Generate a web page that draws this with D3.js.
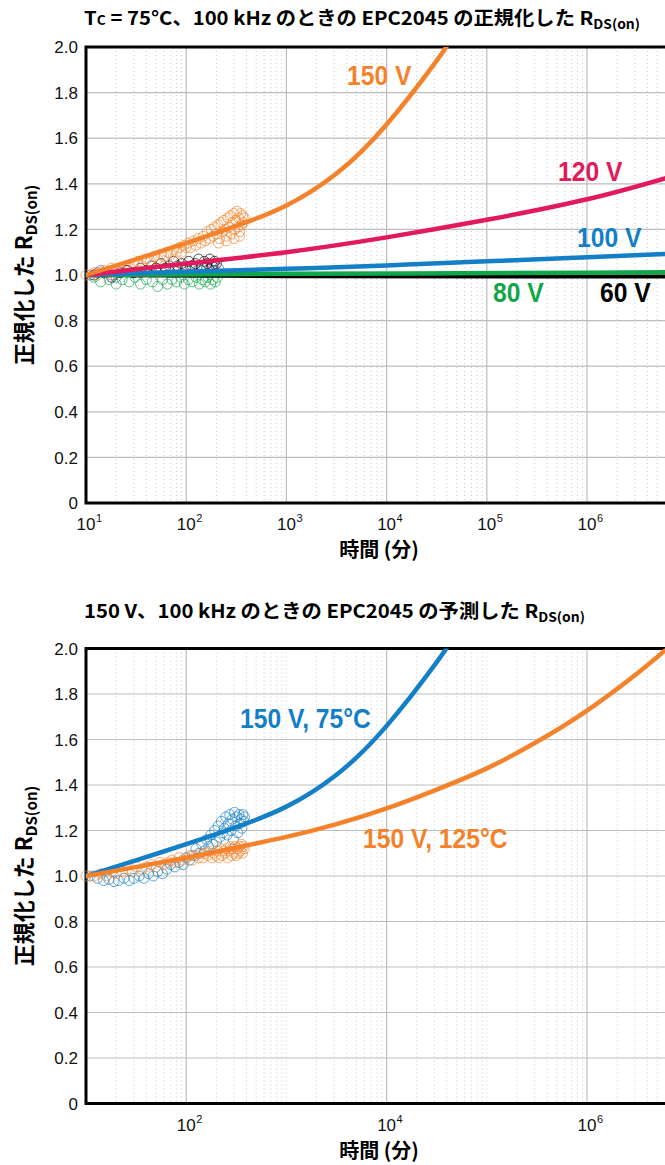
<!DOCTYPE html>
<html>
<head>
<meta charset="utf-8">
<script src="https://cdn.jsdelivr.net/npm/d3@7"></script>
<style>
  body { margin: 0; background: #fff; }
  svg text { font-family: "Liberation Sans", Arial, sans-serif; }
  .jp { font-family: "Noto Sans CJK JP", "Noto Sans", sans-serif; font-weight: 700; }
</style>
</head>
<body>
<div id="chart"></div>
<script>
let width = 665,
    height = 1165;

// axis ticks
const yTicks = [0, 0.2, 0.4, 0.6, 0.8, 1.0, 1.2, 1.4, 1.6, 1.8, 2.0];
const yTickLabels = ["0", "0.2", "0.4", "0.6", "0.8", "1.0", "1.2", "1.4", "1.6", "1.8", "2.0"];
const topXTicks = [1e1, 1e2, 1e3, 1e4, 1e5, 1e6];
const topXExp = ["1", "2", "3", "4", "5", "6"];
const botXTicks = [1e2, 1e4, 1e6];
const botXExp = ["2", "4", "6"];

// fitted curves, [minutes, normalized RDS(on)]
const fit60V = [[10, 1.0], [1000, 0.995], [6e6, 0.993]];
const fit80V = [[10, 1.0], [1000, 1.005], [1e6, 1.01], [6e6, 1.012]];
const fit100V = [[10, 1.0], [100, 1.015], [1000, 1.027], [1e4, 1.042], [1e5, 1.06], [1e6, 1.078], [6e6, 1.092]];
const fit120V = [[10, 1.0], [100, 1.05], [1000, 1.10], [1e4, 1.165], [1e5, 1.242], [1e6, 1.332], [6e6, 1.424]];
const fit150V75C = [[10, 1.0], [32, 1.07], [100, 1.14], [316, 1.215], [1000, 1.305], [3162, 1.445],
  [1e4, 1.66], [31623, 1.94], [44668, 2.04]];
const fit150V125C = [[10, 1.0], [32, 1.04], [100, 1.08], [316, 1.125], [1000, 1.172], [3162, 1.228],
  [1e4, 1.297], [31623, 1.38], [1e5, 1.473], [316228, 1.59], [1e6, 1.727], [3162278, 1.89], [6309573, 2.0]];

// measured points
const pts60V = [[12, 1.0], [15, 1.01], [18, 0.99], [22, 1.01], [26, 1.02], [30, 1.01], [35, 1.03], [40, 1.02],
  [45, 1.04], [50, 1.03], [56, 1.05], [62, 1.03], [68, 1.04], [75, 1.06], [82, 1.04], [90, 1.05], [98, 1.03],
  [106, 1.06], [115, 1.04], [124, 1.05], [133, 1.07], [142, 1.04], [152, 1.06], [162, 1.05], [172, 1.07],
  [182, 1.04], [192, 1.06], [200, 1.05]];
const pts80V = [[12, 0.99], [14, 0.97], [17, 0.98], [20, 0.96], [23, 0.98], [27, 0.97], [31, 0.99], [35, 0.96],
  [40, 0.98], [46, 0.97], [52, 0.95], [58, 0.98], [65, 0.96], [72, 0.98], [80, 0.97], [88, 0.99], [96, 0.96],
  [105, 0.98], [115, 0.97], [125, 0.99], [135, 0.96], [145, 0.98], [155, 0.97], [165, 0.99], [175, 0.96],
  [185, 0.98], [195, 0.97], [205, 0.99]];
const pts100V = [[11, 1.0], [14, 1.02], [20, 0.99], [30, 1.01], [45, 1.02], [70, 1.01], [100, 1.03], [130, 1.02],
  [160, 1.03], [190, 1.02], [210, 1.03]];
const pts120V = [[13, 1.01], [18, 1.0], [25, 1.02], [35, 1.01], [50, 1.03], [75, 1.02], [110, 1.04], [150, 1.03],
  [190, 1.05]];
const pts150V75C = [[10, 1.0], [12, 1.01], [13, 1.0], [15, 1.02], [17, 1.01], [18, 1.03], [20, 1.02], [22, 1.03],
  [25, 1.04], [27, 1.03], [30, 1.05], [33, 1.06], [36, 1.04], [40, 1.07], [44, 1.06], [48, 1.08], [52, 1.07],
  [56, 1.09], [60, 1.08], [65, 1.1], [70, 1.09], [75, 1.11], [80, 1.1], [85, 1.12], [90, 1.1], [95, 1.13],
  [100, 1.12], [105, 1.14], [110, 1.12], [118, 1.15], [125, 1.13], [132, 1.16], [140, 1.14], [148, 1.17],
  [155, 1.15], [162, 1.19], [170, 1.16], [178, 1.2], [185, 1.17], [192, 1.21], [200, 1.18], [208, 1.22],
  [210, 1.14], [215, 1.16], [222, 1.23], [230, 1.19], [238, 1.24], [245, 1.2], [250, 1.15], [252, 1.17],
  [260, 1.25], [268, 1.21], [275, 1.26], [282, 1.18], [290, 1.23], [298, 1.27], [300, 1.16], [305, 1.2],
  [312, 1.24], [320, 1.28], [328, 1.21], [335, 1.25], [340, 1.17], [342, 1.19], [350, 1.27], [358, 1.22],
  [365, 1.26], [372, 1.23], [380, 1.25]];
const ptsBlue75C = [[11, 1.0], [13, 0.99], [15, 0.98], [17, 0.985], [19, 0.975], [21, 0.98], [24, 0.99], [27, 0.98],
  [30, 0.99], [34, 1.0], [38, 0.99], [42, 1.01], [47, 1.0], [52, 1.02], [58, 1.01], [64, 1.03], [70, 1.05],
  [77, 1.04], [85, 1.06], [93, 1.05], [100, 1.08], [108, 1.07], [116, 1.09], [125, 1.12], [134, 1.1],
  [143, 1.14], [152, 1.11], [160, 1.16], [168, 1.13], [176, 1.18], [184, 1.14], [192, 1.2], [200, 1.15],
  [208, 1.22], [216, 1.17], [224, 1.24], [232, 1.19], [240, 1.21], [248, 1.26], [256, 1.18], [264, 1.23],
  [272, 1.27], [280, 1.2], [288, 1.25], [296, 1.16], [304, 1.28], [312, 1.22], [320, 1.26], [328, 1.19],
  [336, 1.27], [344, 1.23], [352, 1.25], [360, 1.21], [368, 1.27], [376, 1.24], [382, 1.26]];
const pts125C = [[10, 1.0], [12, 1.0], [14, 1.01], [16, 1.0], [18, 1.02], [20, 1.01], [23, 1.02], [26, 1.03],
  [29, 1.02], [32, 1.04], [36, 1.03], [40, 1.04], [45, 1.05], [50, 1.04], [55, 1.06], [60, 1.05], [66, 1.06],
  [72, 1.07], [78, 1.06], [85, 1.08], [92, 1.07], [100, 1.08], [108, 1.09], [116, 1.07], [124, 1.09],
  [132, 1.08], [140, 1.1], [148, 1.08], [156, 1.1], [164, 1.09], [172, 1.11], [180, 1.08], [188, 1.1],
  [196, 1.09], [204, 1.11], [212, 1.08], [220, 1.12], [228, 1.09], [236, 1.11], [244, 1.1], [252, 1.12],
  [260, 1.08], [268, 1.11], [276, 1.13], [284, 1.09], [292, 1.12], [300, 1.1], [308, 1.13], [316, 1.09],
  [324, 1.12], [332, 1.1], [340, 1.13], [348, 1.11], [356, 1.14], [364, 1.1], [372, 1.13], [380, 1.12]];

const topNames = ["60 V", "80 V", "100 V", "120 V", "150 V"];
const botNames = ["150 V, 75°C", "150 V, 125°C"];

const orange = "#f4822a", red = "#e2195a", blue = "#137fc6", green = "#12a64b";

const svg = d3.select("#chart")
    .append("svg")
    .attr("width", width)
    .attr("height", height);

const x = d3.scaleLog().domain([10, 6e6]).range([86, 665]);

// squeeze text horizontally to a given width
function fitWidth(sel, w) {
  sel.attr("textLength", w).attr("lengthAdjust", "spacingAndGlyphs");
}
function condense(sel, k) {
  sel.each(function () {
    const w = this.getComputedTextLength();
    d3.select(this).attr("textLength", w * k).attr("lengthAdjust", "spacingAndGlyphs");
  });
}

function panel(id, top, bottom, majors, exps, fits, scatters, labels) {
  const y = d3.scaleLinear().domain([0, 2]).range([bottom, top]);
  const g = svg.append("g");

  g.append("clipPath").attr("id", id)
    .append("rect").attr("x", x.range()[0]).attr("y", top)
    .attr("width", x.range()[1] - x.range()[0]).attr("height", bottom - top);

  // minor log grid
  let minors = [];
  for (let k = 1; k <= 6; k++) {
    for (let m = 1; m <= 9; m++) {
      const t = m * Math.pow(10, k);
      if (m === 1 && (majors.indexOf(t) >= 0 || k === 1)) continue;
      if (t < 6e6) minors.push(t);
    }
  }
  g.selectAll(".minor").data(minors).enter().append("line")
    .attr("x1", d => x(d)).attr("x2", d => x(d))
    .attr("y1", top).attr("y2", bottom)
    .style("stroke", "#c9c9c9").style("stroke-width", 1)
    .style("stroke-dasharray", "1,3");

  g.selectAll(".vmaj").data(majors).enter().append("line")
    .attr("x1", d => x(d)).attr("x2", d => x(d))
    .attr("y1", top).attr("y2", bottom)
    .style("stroke", "#bdbdbd").style("stroke-width", 1.2);

  g.selectAll(".hmaj").data(yTicks).enter().append("line")
    .attr("x1", x.range()[0]).attr("x2", x.range()[1])
    .attr("y1", d => y(d)).attr("y2", d => y(d))
    .style("stroke", "#bdbdbd").style("stroke-width", 1.2);

  // frame
  g.append("path")
    .attr("d", "M" + x.range()[1] + "," + top + "H" + x.range()[0] + "V" + bottom + "H" + x.range()[1])
    .style("fill", "none").style("stroke", "#000").style("stroke-width", 3);

  // y tick labels
  g.selectAll(".ylab").data(yTicks).enter().append("text")
    .attr("x", 78).attr("y", d => y(d)).attr("dy", "0.36em")
    .attr("text-anchor", "end")
    .style("font-size", "17px").style("fill", "#111")
    .text((d, i) => yTickLabels[i]);

  // x tick labels, 10 with superscript exponent
  const xl = g.selectAll(".xlab").data(majors).enter().append("g");
  xl.append("text")
    .attr("x", d => x(d)).attr("y", bottom + 27)
    .attr("text-anchor", "middle")
    .style("font-size", "17px").style("fill", "#111")
    .text("10");
  xl.append("text")
    .attr("x", d => x(d) + 10).attr("y", bottom + 19)
    .style("font-size", "11px").style("fill", "#111")
    .text((d, i) => exps[i]);

  // axis titles
  g.append("text").attr("class", "jp")
    .attr("x", 379).attr("y", bottom + 54)
    .attr("text-anchor", "middle")
    .style("font-size", "20px")
    .text("時間 (分)");

  const yl = g.append("text").attr("class", "jp")
    .attr("transform", "translate(32," + y(1.0) + ") rotate(-90)")
    .attr("text-anchor", "middle")
    .style("font-size", "22px");
  yl.append("tspan").text("正規化した R");
  yl.append("tspan").attr("dy", 5).style("font-size", "15px").text("DS(on)");

  // scatter
  scatters.forEach(function (s) {
    g.append("g").selectAll("circle").data(s.pts).enter().append("circle")
      .attr("cx", d => x(d[0])).attr("cy", d => y(d[1]))
      .attr("r", 5)
      .style("fill", "none").style("stroke", s.color)
      .style("stroke-width", 0.9).style("stroke-opacity", 0.75);
  });

  // fitted lines
  const line = d3.line().x(d => x(d[0])).y(d => y(d[1])).curve(d3.curveNatural);
  g.append("g").attr("clip-path", "url(#" + id + ")")
    .selectAll("path").data(fits).enter().append("path")
    .attr("d", d => line(d.pts))
    .style("fill", "none").style("stroke", d => d.color)
    .style("stroke-width", d => d.w || 4.5).style("stroke-linecap", "round");

  // curve labels
  g.selectAll(".clab").data(labels).enter().append("text")
    .attr("x", d => d.x).attr("y", d => d.y)
    .style("font-size", "28px").style("font-weight", 700)
    .style("fill", d => d.color)
    .text(d => d.text)
    .call(condense, 0.88);
}

// titles
const t1 = svg.append("text").attr("class", "jp")
    .attr("x", 84).attr("y", 25).style("font-size", "19px");
t1.append("tspan").text("T");
t1.append("tspan").style("font-size", "13px").text("C");
t1.append("tspan").text(" = 75°C、100 kHz のときの EPC2045 の正規化した R");
t1.append("tspan").attr("dy", 4).style("font-size", "13px").text("DS(on)");
t1.call(fitWidth, 556);

const t2 = svg.append("text").attr("class", "jp")
    .attr("x", 84).attr("y", 618).style("font-size", "19px");
t2.append("tspan").text("150 V、100 kHz のときの EPC2045 の予測した R");
t2.append("tspan").attr("dy", 4).style("font-size", "13px").text("DS(on)");
t2.call(fitWidth, 501);

panel("clipTop", 47, 503, topXTicks, topXExp,
  [
    { pts: fit60V, color: "#000", w: 4 },
    { pts: fit80V, color: green },
    { pts: fit100V, color: blue },
    { pts: fit120V, color: red },
    { pts: fit150V75C, color: orange }
  ],
  [
    { pts: pts80V, color: green },
    { pts: pts100V, color: blue },
    { pts: pts120V, color: red },
    { pts: pts60V, color: "#000" },
    { pts: pts150V75C, color: orange }
  ],
  [
    { text: topNames[4], color: orange, x: 347, y: 85 },
    { text: topNames[3], color: red, x: 558, y: 181 },
    { text: topNames[2], color: blue, x: 577, y: 247 },
    { text: topNames[1], color: green, x: 493, y: 302 },
    { text: topNames[0], color: "#000", x: 600, y: 302 }
  ]);

panel("clipBot", 648.5, 1103.5, botXTicks, botXExp,
  [
    { pts: fit150V75C, color: blue },
    { pts: fit150V125C, color: orange }
  ],
  [
    { pts: ptsBlue75C, color: blue },
    { pts: pts125C, color: orange }
  ],
  [
    { text: botNames[0], color: blue, x: 240, y: 728 },
    { text: botNames[1], color: orange, x: 363, y: 848 }
  ]);
</script>
</body>
</html>
